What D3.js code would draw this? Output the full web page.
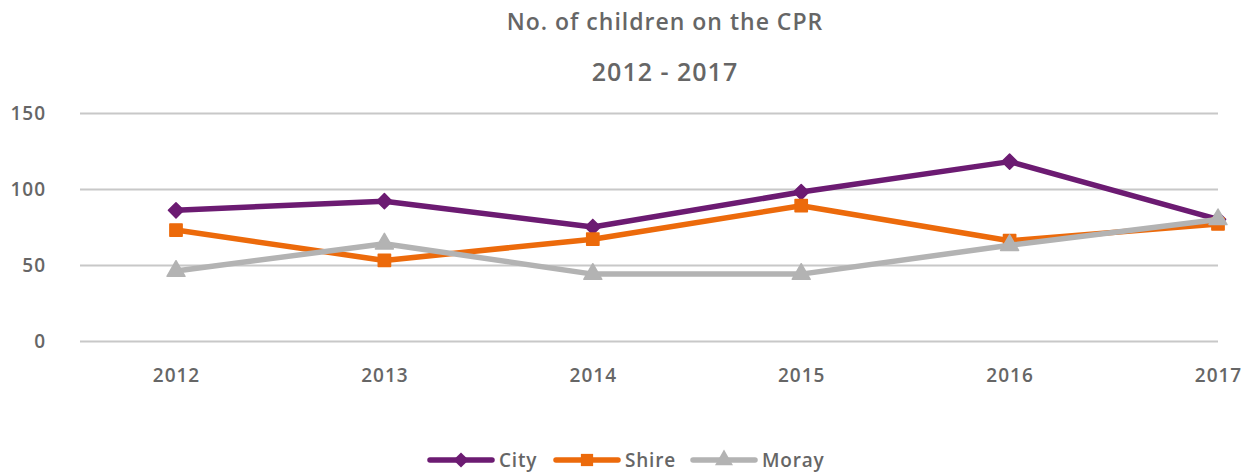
<!DOCTYPE html>
<html>
<head>
<meta charset="utf-8">
<script src="https://cdn.jsdelivr.net/npm/d3@7"></script>
<style>
  body { margin: 0; background: #fff; }
  text { font-family: "Open Sans", sans-serif; font-weight: 600; fill: #666; }
</style>
</head>
<body>
<div id="chart"></div>
<script>
const years = ["2012", "2013", "2014", "2015", "2016", "2017"];
const city = [86, 92, 75, 98, 118, 80];
const shire = [73, 53, 67, 89, 66, 77];
const moray = [46, 64, 44, 44, 63, 80];
const yTicks = [0, 50, 100, 150];

const width = 1250, height = 472;
const svg = d3.select("#chart").append("svg")
    .attr("width", width)
    .attr("height", height);

// scales
const x = d3.scalePoint().domain(years).range([176, 1218]);
const y = d3.scaleLinear().domain([0, 150]).range([341, 113]);

// titles
svg.append("text").attr("x", 665).attr("y", 30)
    .attr("text-anchor", "middle").style("font-size", "23px").style("letter-spacing", "1px")
    .text("No. of children on the CPR");
svg.append("text").attr("x", 665).attr("y", 81)
    .attr("text-anchor", "middle").style("font-size", "25px").style("letter-spacing", "1px")
    .text("2012 - 2017");

// gridlines + y labels
const yAxis = svg.append("g")
    .attr("transform", "translate(80,0)")
    .call(d3.axisLeft(y).tickValues(yTicks).tickSize(-(1218 - 80)).tickPadding(34));
yAxis.select(".domain").remove();
yAxis.selectAll(".tick line").attr("stroke", "#c8c8c8").attr("stroke-width", 2);
yAxis.selectAll(".tick text").style("font-size", "19px").style("letter-spacing", "1px")
    .attr("fill", "#666")
    .style("font-family", "'Open Sans', sans-serif").style("font-weight", 600);

// x labels
const xAxis = svg.append("g")
    .attr("transform", "translate(0,341)")
    .call(d3.axisBottom(x).tickSize(0).tickPadding(28));
xAxis.select(".domain").remove();
xAxis.selectAll(".tick text").style("font-size", "19px").style("letter-spacing", "1px")
    .attr("fill", "#666")
    .style("font-family", "'Open Sans', sans-serif").style("font-weight", 600);

// flattened diamond marker like the original
const diamond = {
  draw(ctx, size) {
    const w = Math.sqrt(size) * 0.62, h = Math.sqrt(size) * 0.62;
    ctx.moveTo(0, -h); ctx.lineTo(w, 0); ctx.lineTo(0, h); ctx.lineTo(-w, 0); ctx.closePath();
  }
};

const series = [
  { name: "City", values: city, color: "#6c1b72", shape: diamond, size: 150 },
  { name: "Shire", values: shire, color: "#ec6a0b", shape: d3.symbolSquare, size: 150 },
  { name: "Moray", values: moray, color: "#b3b3b3", shape: d3.symbolTriangle, size: 140 }
];

const line = d3.line().x((d, i) => x(years[i])).y(d => y(d));

series.forEach(s => {
  svg.append("path")
      .datum(s.values)
      .attr("fill", "none")
      .attr("stroke", s.color)
      .attr("stroke-width", 5.5)
      .attr("stroke-linejoin", "round")
      .attr("d", line);
  svg.selectAll(null)
      .data(s.values)
      .enter().append("path")
      .attr("transform", (d, i) => `translate(${x(years[i])},${y(d)})`)
      .attr("d", d3.symbol().type(s.shape).size(s.size))
      .attr("fill", s.color)
      .attr("stroke", s.color).attr("stroke-width", 1.5).attr("stroke-linejoin", "round");
});

// legend
const legendX = [430, 556, 693];
const legend = svg.append("g").attr("transform", "translate(0,460)");
series.forEach((s, i) => {
  const g = legend.append("g").attr("transform", `translate(${legendX[i]},0)`);
  g.append("line").attr("x1", 0).attr("x2", 62)
      .attr("stroke", s.color).attr("stroke-width", 5.5).attr("stroke-linecap", "round");
  g.append("path").attr("transform", "translate(31,0)")
      .attr("d", d3.symbol().type(s.shape).size(s.size)).attr("fill", s.color);
  g.append("text").attr("x", 69).attr("y", 7).style("font-size", "19px")
      .style("letter-spacing", "0.8px").text(s.name);
});
</script>
</body>
</html>
